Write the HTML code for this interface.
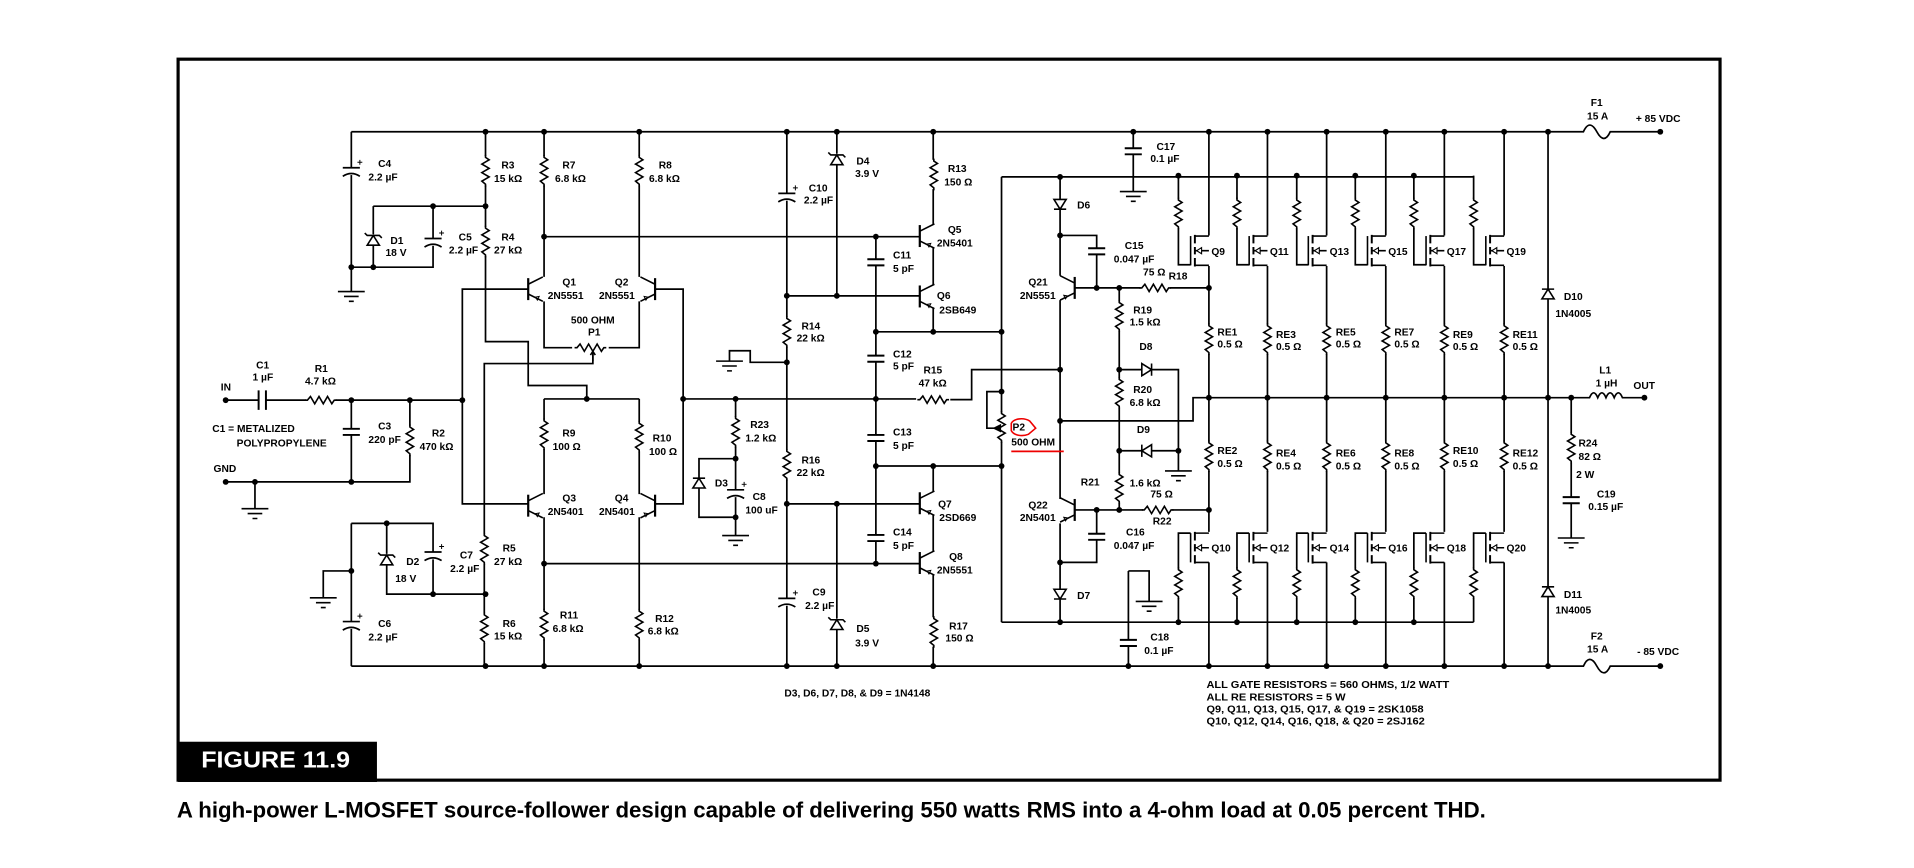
<!DOCTYPE html>
<html><head><meta charset="utf-8">
<style>
html,body{margin:0;padding:0;background:#fff;}
svg{display:block;}
.l{font-family:"Liberation Sans",Arial,sans-serif;font-weight:bold;font-size:8.4px;fill:#000;}
</style></head>
<body>
<svg width="1914" height="868" viewBox="0 0 1569 711.5" preserveAspectRatio="none" xmlns="http://www.w3.org/2000/svg">
<defs>
<g id="rv"><rect x="-4.5" y="-12" width="9" height="24" fill="#fff" stroke="none"/><polyline points="0,-13 0,-11 3,-9 -3,-5.5 3,-2 -3,1.5 3,5 -3,8.5 0,11 0,13" fill="none"/></g>
<g id="cv"><rect x="-8" y="-2.5" width="16" height="5" fill="#fff" stroke="none"/><path d="M-7,-2.5H7M-7,2.5H7" fill="none" stroke-width="1.6"/></g>
<g id="cp"><rect x="-8" y="-2.5" width="16" height="6" fill="#fff" stroke="none"/><path d="M-7,-2.5H7M-7,4.5Q0,0 7,4.5" fill="none" stroke-width="1.4"/><path d="M5,-7h4M7,-9v4" fill="none" stroke-width="0.8"/></g>
<g id="dd"><rect x="-6" y="-4" width="12" height="8" fill="#fff" stroke="none"/><path d="M-5,-4H5L0,4ZM-5,4H5" fill="none"/></g>
<g id="du"><rect x="-6" y="-4" width="12" height="8" fill="#fff" stroke="none"/><path d="M-5,4H5L0,-4ZM-5,-4H5" fill="none"/></g>
<g id="zu"><rect x="-6" y="-5" width="12" height="9" fill="#fff" stroke="none"/><path d="M-5,4H5L0,-4ZM-7,-6L-5,-4H5L7,-2" fill="none"/></g>
<g id="dr"><rect x="-4" y="-6" width="8" height="12" fill="#fff" stroke="none"/><path d="M-4,-5V5L4,0ZM4,-5V5" fill="none"/></g>
<g id="dl"><rect x="-4" y="-6" width="8" height="12" fill="#fff" stroke="none"/><path d="M4,-5V5L-4,0ZM-4,-5V5" fill="none"/></g>
<g id="gnd"><path d="M-11,0H11M-6,4H6M-2,8H2" fill="none"/></g>
<g id="bjt"><path d="M0,-9V9" stroke-width="1.8" fill="none"/><path d="M0,-4L12,-10M0,4L12,10" fill="none"/><path d="M6,6.5l3,-0.5l-1.5,3z" fill="none" stroke-width="0.8"/></g>
<g id="mos"><path d="M-15,-12V12" fill="none"/><path d="M-11.5,-13V-6M-11.5,-3V3M-11.5,6V13" stroke-width="1.6" fill="none"/><path d="M-11.5,-12H0M-11.5,12H0M-11.5,0H0" fill="none"/><path d="M-10,0l4,-2.5v5z" fill="#fff" stroke-width="0.9"/></g>
<circle id="d" r="2.4" fill="#000" stroke="none"/>
</defs>

<rect x="146" y="48.5" width="1264" height="591" fill="none" stroke="#000" stroke-width="2.6"/>
<rect x="146" y="608" width="163" height="33" fill="#000"/>
<text x="165" y="629" fill="#fff" font-family="Liberation Sans,Arial,sans-serif" font-weight="bold" font-size="19" textLength="122" lengthAdjust="spacingAndGlyphs">FIGURE 11.9</text>
<text x="145" y="670" fill="#000" font-family="Liberation Sans,Arial,sans-serif" font-weight="bold" font-size="18" textLength="1073" lengthAdjust="spacingAndGlyphs">A high-power L-MOSFET source-follower design capable of delivering 550 watts RMS into a 4-ohm load at 0.05 percent THD.</text>

<g stroke="#000" stroke-width="1.4" fill="none">
<path d="M288,108H1298q5,-11 11,0q6,11 11,0H1361"/>
<path d="M288,546H1298q5,-11 11,0q6,11 11,0H1361"/>
<path d="M288,108V239M306,169H398M306,169V219H288M306,219H355V169"/>
<path d="M288,429H355V487M317,429V487H398M288,468H265V490M288,429V546"/>
<path d="M398,108V280H433V316H481V327"/>
<path d="M486,290V298H397V546"/>
<path d="M446,108V227M524,108V227M446,247V285H469M499,285H524V247"/>
<path d="M446,194H754"/>
<path d="M433,237H379V413H433M537,237H560V413H537"/>
<path d="M446,327H524M446,327V405M524,327V405M446,424V546M524,424V546"/>
<path d="M446,462H754"/>
<path d="M185,328H212M218,328H379M288,328V395M336,328V395H185M209,395V417"/>
<path d="M212,320V336M218,320V336" stroke-width="1.6"/>
<path d="M560,327H751M603,327V424M603,376H573V424H603M603,424V439"/>
<path d="M645,108V546M645,297H615V287.5H598V296"/>
<path d="M686,108V242.5M686,413V546M645,242.5H754M645,413H754"/>
<path d="M718,194V462"/>
<path d="M765,108V184M765,203V234M765,252V272M718,272H821M718,382H821M765,382V403M765,422V452M765,471V546"/>
<path d="M779,327.6H796.5V303H869"/>
<path d="M821,145V510M821,321H809V351H815"/>
<path d="M821,145H1208M929,108V157"/>
<path d="M869,145V226M869,246V409M869,429V510M869,193H899V236"/>
<path d="M881,236H990M881,418H990"/>
<path d="M917.5,236V418M917.5,303H966V386M917.5,369.5H966"/>
<path d="M869,345H978V326H990"/>
<path d="M899,418V461H869"/>
<path d="M821,510H1208M925,468V546M925,468H942V493"/>
<path d="M991,108V193M991,218V436M991,461V546"/>
<path d="M1039,108V193M1039,218V436M1039,461V546"/>
<path d="M1087.5,108V193M1087.5,218V436M1087.5,461V546"/>
<path d="M1136,108V193M1136,218V436M1136,461V546"/>
<path d="M1184,108V193M1184,218V436M1184,461V546"/>
<path d="M1233,108V193M1233,218V436M1233,461V546"/>
<path d="M966,144V217H976M1014,144V217H1024M1063,144V217H1072.5M1111,144V217H1121M1159,144V217H1169M1208,144V217H1218"/>
<path d="M966,510V437H976M1014,510V437H1024M1063,510V437H1072.5M1111,510V437H1121M1159,510V437H1169M1208,510V437H1218"/>
<path d="M990,326H1303q3.4,-8 6.75,0q3.4,-8 6.75,0q3.4,-8 6.75,0q3.4,-8 6.75,0H1348"/>
<path d="M1269,108V546M1288,326V441"/>
</g>

<g stroke="#000" stroke-width="1.3" fill="none">
<use href="#cp" x="288" y="140"/>
<use href="#gnd" x="288" y="239"/>
<use href="#zu" x="306" y="197"/>
<use href="#cp" x="355" y="198"/>
<use href="#rv" x="398" y="140"/>
<use href="#rv" x="398" y="198"/>
<use href="#rv" x="446" y="140"/>
<use href="#rv" x="524" y="140"/>
<use href="#bjt" transform="translate(433,237)"/>
<use href="#bjt" transform="translate(537,237) scale(-1,1)"/>
<use href="#rv" transform="translate(484,285) rotate(90)"/>
<path d="M486,296V289M484,291l2,-3l2,3" stroke="#000"/>
<use href="#rv" transform="translate(263,328) rotate(90)"/>
<use href="#cv" x="288" y="354"/>
<use href="#rv" x="336" y="361"/>
<use href="#gnd" x="209" y="417"/>
<use href="#rv" x="446" y="356"/>
<use href="#rv" x="524" y="358"/>
<use href="#bjt" transform="translate(433,414.5)"/>
<use href="#bjt" transform="translate(537,414.5) scale(-1,1)"/>
<use href="#rv" x="446" y="512"/>
<use href="#rv" x="524" y="512"/>
<use href="#zu" x="317" y="459"/>
<use href="#cp" x="355" y="455"/>
<use href="#gnd" x="265" y="490"/>
<use href="#cp" x="288" y="512"/>
<use href="#rv" x="397" y="450"/>
<use href="#rv" x="397" y="515"/>
<use href="#rv" x="603" y="354"/>
<use href="#du" x="573" y="396"/>
<use href="#cp" x="603" y="404"/>
<use href="#gnd" x="603" y="439"/>
<use href="#cp" x="645" y="161"/>
<use href="#rv" x="645" y="272"/>
<use href="#gnd" x="598" y="296"/>
<use href="#rv" x="645" y="381"/>
<use href="#cp" x="645" y="493"/>
<use href="#zu" x="686" y="131"/>
<use href="#zu" x="686" y="512"/>
<use href="#cv" x="718" y="215"/>
<use href="#cv" x="718" y="294"/>
<use href="#cv" x="718" y="359"/>
<use href="#cv" x="718" y="441"/>
<use href="#rv" x="765.5" y="143"/>
<use href="#bjt" transform="translate(754,193.5)"/>
<use href="#bjt" transform="translate(754,243)"/>
<use href="#bjt" transform="translate(754,412.5)"/>
<use href="#bjt" transform="translate(754,461.5)"/>
<use href="#rv" x="765.5" y="518"/>
<use href="#rv" transform="translate(765,327.6) rotate(90)"/>
<use href="#rv" x="821" y="350"/>
<path d="M815,351l5,-2.5v5z" fill="#000"/>
<use href="#cv" x="929" y="124"/>
<use href="#gnd" x="929" y="157"/>
<use href="#dd" x="869" y="167.5"/>
<use href="#cv" x="899" y="206"/>
<use href="#bjt" transform="translate(881,236) scale(-1,1)"/>
<use href="#rv" transform="translate(947,236) rotate(90)"/>
<use href="#rv" x="917.5" y="259"/>
<use href="#rv" x="917.5" y="322"/>
<use href="#rv" x="917.5" y="400"/>
<use href="#dr" x="940" y="303"/>
<use href="#dl" x="940" y="369.5"/>
<use href="#gnd" x="966" y="386"/>
<use href="#bjt" transform="translate(881,418) scale(-1,1)"/>
<use href="#rv" transform="translate(949,418) rotate(90)"/>
<use href="#cv" x="899" y="440"/>
<use href="#dd" x="869" y="487"/>
<use href="#cv" x="925" y="527"/>
<use href="#gnd" x="942" y="493"/>
<use href="#mos" x="991" y="205.5"/><use href="#mos" x="1039" y="205.5"/><use href="#mos" x="1087.5" y="205.5"/><use href="#mos" x="1136" y="205.5"/><use href="#mos" x="1184" y="205.5"/><use href="#mos" x="1233" y="205.5"/>
<use href="#mos" x="991" y="449"/><use href="#mos" x="1039" y="449"/><use href="#mos" x="1087.5" y="449"/><use href="#mos" x="1136" y="449"/><use href="#mos" x="1184" y="449"/><use href="#mos" x="1233" y="449"/>
<use href="#rv" x="966" y="175"/><use href="#rv" x="1014" y="175"/><use href="#rv" x="1063" y="175"/><use href="#rv" x="1111" y="175"/><use href="#rv" x="1159" y="175"/><use href="#rv" x="1208" y="175"/>
<use href="#rv" x="966" y="478"/><use href="#rv" x="1014" y="478"/><use href="#rv" x="1063" y="478"/><use href="#rv" x="1111" y="478"/><use href="#rv" x="1159" y="478"/><use href="#rv" x="1208" y="478"/>
<use href="#rv" x="991" y="278"/><use href="#rv" x="1039" y="278"/><use href="#rv" x="1087.5" y="278"/><use href="#rv" x="1136" y="278"/><use href="#rv" x="1184" y="278"/><use href="#rv" x="1233" y="278"/>
<use href="#rv" x="991" y="374"/><use href="#rv" x="1039" y="374"/><use href="#rv" x="1087.5" y="374"/><use href="#rv" x="1136" y="374"/><use href="#rv" x="1184" y="374"/><use href="#rv" x="1233" y="374"/>
<use href="#du" x="1269" y="241"/>
<use href="#du" x="1269" y="485"/>
<use href="#rv" x="1288" y="367"/>
<use href="#cv" x="1288" y="410"/>
<use href="#gnd" x="1288" y="441"/>
</g>

<g>
<use href="#d" x="398" y="108"/><use href="#d" x="446" y="108"/><use href="#d" x="524" y="108"/><use href="#d" x="645" y="108"/><use href="#d" x="686" y="108"/><use href="#d" x="765" y="108"/><use href="#d" x="929" y="108"/>
<use href="#d" x="991" y="108"/><use href="#d" x="1039" y="108"/><use href="#d" x="1087.5" y="108"/><use href="#d" x="1136" y="108"/><use href="#d" x="1184" y="108"/><use href="#d" x="1233" y="108"/><use href="#d" x="1269" y="108"/><use href="#d" x="1361" y="108"/>
<use href="#d" x="398" y="546"/><use href="#d" x="446" y="546"/><use href="#d" x="524" y="546"/><use href="#d" x="645" y="546"/><use href="#d" x="686" y="546"/><use href="#d" x="765" y="546"/><use href="#d" x="925" y="546"/>
<use href="#d" x="991" y="546"/><use href="#d" x="1039" y="546"/><use href="#d" x="1087.5" y="546"/><use href="#d" x="1136" y="546"/><use href="#d" x="1184" y="546"/><use href="#d" x="1233" y="546"/><use href="#d" x="1269" y="546"/><use href="#d" x="1361" y="546"/>
<use href="#d" x="355" y="169"/><use href="#d" x="398" y="169"/><use href="#d" x="288" y="219"/><use href="#d" x="306" y="219"/>
<use href="#d" x="446" y="194"/><use href="#d" x="718" y="194"/>
<use href="#d" x="185" y="328"/><use href="#d" x="288" y="328"/><use href="#d" x="336" y="328"/><use href="#d" x="379" y="328"/>
<use href="#d" x="185" y="395"/><use href="#d" x="209" y="395"/><use href="#d" x="288" y="395"/>
<use href="#d" x="481" y="327"/><use href="#d" x="560" y="327"/><use href="#d" x="603" y="327"/><use href="#d" x="718" y="327"/>
<use href="#d" x="603" y="376"/><use href="#d" x="603" y="424"/>
<use href="#d" x="446" y="462"/><use href="#d" x="718" y="462"/>
<use href="#d" x="317" y="429"/><use href="#d" x="288" y="468"/><use href="#d" x="355" y="487"/><use href="#d" x="398" y="487"/>
<use href="#d" x="645" y="242.5"/><use href="#d" x="686" y="242.5"/><use href="#d" x="645" y="297"/><use href="#d" x="645" y="413"/><use href="#d" x="686" y="413"/>
<use href="#d" x="718" y="272"/><use href="#d" x="765" y="272"/><use href="#d" x="821" y="272"/><use href="#d" x="718" y="382"/><use href="#d" x="765" y="382"/><use href="#d" x="821" y="382"/><use href="#d" x="821" y="321"/>
<use href="#d" x="869" y="145"/><use href="#d" x="966" y="144"/><use href="#d" x="1014" y="144"/><use href="#d" x="1063" y="144"/><use href="#d" x="1111" y="144"/><use href="#d" x="1159" y="144"/>
<use href="#d" x="869" y="193"/><use href="#d" x="899" y="236"/><use href="#d" x="917.5" y="236"/><use href="#d" x="991" y="236"/>
<use href="#d" x="869" y="303"/><use href="#d" x="917.5" y="303"/><use href="#d" x="869" y="345"/><use href="#d" x="917.5" y="369.5"/><use href="#d" x="966" y="369.5"/>
<use href="#d" x="899" y="418"/><use href="#d" x="917.5" y="418"/><use href="#d" x="991" y="418"/><use href="#d" x="869" y="461"/>
<use href="#d" x="869" y="510"/><use href="#d" x="966" y="510"/><use href="#d" x="1014" y="510"/><use href="#d" x="1063" y="510"/><use href="#d" x="1111" y="510"/><use href="#d" x="1159" y="510"/>
<use href="#d" x="991" y="326"/><use href="#d" x="1039" y="326"/><use href="#d" x="1087.5" y="326"/><use href="#d" x="1136" y="326"/><use href="#d" x="1184" y="326"/><use href="#d" x="1233" y="326"/><use href="#d" x="1269" y="326"/><use href="#d" x="1288" y="326"/><use href="#d" x="1348" y="326"/>
</g>

<path d="M829,347c2,-4 10,-5 15,-2l5,6l-6,5c-5,2 -12,1 -14,-3z" fill="none" stroke="#e00" stroke-width="1.3"/>
<path d="M829,370H872" stroke="#e00" stroke-width="1.5"/>

<g class="l">
<text x="310" y="137">C4</text><text x="302" y="148">2.2 µF</text>
<text x="411" y="138">R3</text><text x="405" y="149">15 kΩ</text>
<text x="461" y="138">R7</text><text x="455" y="149">6.8 kΩ</text>
<text x="540" y="138">R8</text><text x="532" y="149">6.8 kΩ</text>
<text x="320" y="200">D1</text><text x="316" y="210">18 V</text>
<text x="376" y="197">C5</text><text x="368" y="208">2.2 µF</text>
<text x="411" y="197">R4</text><text x="405" y="208">27 kΩ</text>
<text x="461" y="234">Q1</text><text x="449" y="245">2N5551</text>
<text x="504" y="234">Q2</text><text x="491" y="245">2N5551</text>
<text x="468" y="265">500 OHM</text><text x="482" y="275">P1</text>
<text x="210" y="302">C1</text><text x="207" y="312">1 µF</text>
<text x="258" y="305">R1</text><text x="250" y="315">4.7 kΩ</text>
<text x="181" y="320">IN</text>
<text x="174" y="354">C1 = METALIZED</text><text x="194" y="366">POLYPROPYLENE</text>
<text x="310" y="352">C3</text><text x="302" y="363">220 pF</text>
<text x="354" y="358">R2</text><text x="344" y="369">470 kΩ</text>
<text x="175" y="387">GND</text>
<text x="461" y="358">R9</text><text x="453" y="369">100 Ω</text>
<text x="535" y="362">R10</text><text x="532" y="373">100 Ω</text>
<text x="461" y="411">Q3</text><text x="449" y="422">2N5401</text>
<text x="504" y="411">Q4</text><text x="491" y="422">2N5401</text>
<text x="586" y="399">D3</text>
<text x="333" y="463">D2</text><text x="324" y="477">18 V</text>
<text x="377" y="458">C7</text><text x="369" y="469">2.2 µF</text>
<text x="412" y="452">R5</text><text x="405" y="463">27 kΩ</text>
<text x="310" y="514">C6</text><text x="302" y="525">2.2 µF</text>
<text x="412" y="514">R6</text><text x="405" y="524">15 kΩ</text>
<text x="459" y="507">R11</text><text x="453" y="518">6.8 kΩ</text>
<text x="537" y="510">R12</text><text x="531" y="520">6.8 kΩ</text>
<text x="702" y="135">D4</text><text x="701" y="145">3.9 V</text>
<text x="663" y="157">C10</text><text x="659" y="167">2.2 µF</text>
<text x="777" y="141">R13</text><text x="774" y="152">150 Ω</text>
<text x="777" y="191">Q5</text><text x="768" y="202">2N5401</text>
<text x="732" y="212">C11</text><text x="732" y="223">5 pF</text>
<text x="768" y="245">Q6</text><text x="770" y="257">2SB649</text>
<text x="657" y="270">R14</text><text x="653" y="280">22 kΩ</text>
<text x="732" y="293">C12</text><text x="732" y="303">5 pF</text>
<text x="757" y="306">R15</text><text x="753" y="317">47 kΩ</text>
<text x="615" y="351">R23</text><text x="611" y="362">1.2 kΩ</text>
<text x="732" y="357">C13</text><text x="732" y="368">5 pF</text>
<text x="657" y="380">R16</text><text x="653" y="390">22 kΩ</text>
<text x="617" y="410">C8</text><text x="611" y="421">100 uF</text>
<text x="769" y="416">Q7</text><text x="770" y="427">2SD669</text>
<text x="732" y="439">C14</text><text x="732" y="450">5 pF</text>
<text x="778" y="459">Q8</text><text x="768" y="470">2N5551</text>
<text x="666" y="488">C9</text><text x="660" y="499">2.2 µF</text>
<text x="702" y="518">D5</text><text x="701" y="530">3.9 V</text>
<text x="778" y="516">R17</text><text x="775" y="526">150 Ω</text>
<text x="643" y="571">D3, D6, D7, D8, &amp; D9 = 1N4148</text>
<text x="948" y="123">C17</text><text x="943" y="133">0.1 µF</text>
<text x="883" y="171">D6</text>
<text x="922" y="204">C15</text><text x="913" y="215">0.047 µF</text>
<text x="937" y="226">75 Ω</text><text x="958" y="229">R18</text>
<text x="843" y="234">Q21</text><text x="836" y="245">2N5551</text>
<text x="929" y="257">R19</text><text x="926" y="267">1.5 kΩ</text>
<text x="934" y="287">D8</text>
<text x="929" y="322">R20</text><text x="926" y="333">6.8 kΩ</text>
<text x="830" y="353">P2</text><text x="829" y="365">500 OHM</text>
<text x="932" y="355">D9</text>
<text x="886" y="398">R21</text>
<text x="926" y="399">1.6 kΩ</text><text x="943" y="408">75 Ω</text>
<text x="843" y="417">Q22</text><text x="836" y="427">2N5401</text>
<text x="945" y="430">R22</text>
<text x="923" y="439">C16</text><text x="913" y="450">0.047 µF</text>
<text x="883" y="491">D7</text>
<text x="943" y="525">C18</text><text x="938" y="536">0.1 µF</text>
<text x="993" y="209">Q9</text><text x="1041" y="209">Q11</text><text x="1090" y="209">Q13</text><text x="1138" y="209">Q15</text><text x="1186" y="209">Q17</text><text x="1235" y="209">Q19</text>
<text x="993" y="452">Q10</text><text x="1041" y="452">Q12</text><text x="1090" y="452">Q14</text><text x="1138" y="452">Q16</text><text x="1186" y="452">Q18</text><text x="1235" y="452">Q20</text>
<text x="998" y="275">RE1</text><text x="998" y="285">0.5 Ω</text>
<text x="1046" y="277">RE3</text><text x="1046" y="287">0.5 Ω</text>
<text x="1095" y="275">RE5</text><text x="1095" y="285">0.5 Ω</text>
<text x="1143" y="275">RE7</text><text x="1143" y="285">0.5 Ω</text>
<text x="1191" y="277">RE9</text><text x="1191" y="287">0.5 Ω</text>
<text x="1240" y="277">RE11</text><text x="1240" y="287">0.5 Ω</text>
<text x="998" y="372">RE2</text><text x="998" y="383">0.5 Ω</text>
<text x="1046" y="374">RE4</text><text x="1046" y="385">0.5 Ω</text>
<text x="1095" y="374">RE6</text><text x="1095" y="385">0.5 Ω</text>
<text x="1143" y="374">RE8</text><text x="1143" y="385">0.5 Ω</text>
<text x="1191" y="372">RE10</text><text x="1191" y="383">0.5 Ω</text>
<text x="1240" y="374">RE12</text><text x="1240" y="385">0.5 Ω</text>
<text x="1304" y="87">F1</text><text x="1301" y="98">15 A</text><text x="1341" y="100">+ 85 VDC</text>
<text x="1304" y="524">F2</text><text x="1301" y="535">15 A</text><text x="1342" y="537">- 85 VDC</text>
<text x="1282" y="246">D10</text><text x="1275" y="260">1N4005</text>
<text x="1282" y="490">D11</text><text x="1275" y="503">1N4005</text>
<text x="1311" y="306">L1</text><text x="1308" y="317">1 µH</text><text x="1339" y="319">OUT</text>
<text x="1294" y="366">R24</text><text x="1294" y="377">82 Ω</text><text x="1292" y="392">2 W</text>
<text x="1309" y="408">C19</text><text x="1302" y="418">0.15 µF</text>
<text x="989" y="564" textLength="199" lengthAdjust="spacingAndGlyphs">ALL GATE RESISTORS = 560 OHMS, 1/2 WATT</text>
<text x="989" y="574" textLength="114" lengthAdjust="spacingAndGlyphs">ALL RE RESISTORS = 5 W</text>
<text x="989" y="584" textLength="178" lengthAdjust="spacingAndGlyphs">Q9, Q11, Q13, Q15, Q17, &amp; Q19 = 2SK1058</text>
<text x="989" y="594" textLength="179" lengthAdjust="spacingAndGlyphs">Q10, Q12, Q14, Q16, Q18, &amp; Q20 = 2SJ162</text>
</g>
</svg>
</body></html>
